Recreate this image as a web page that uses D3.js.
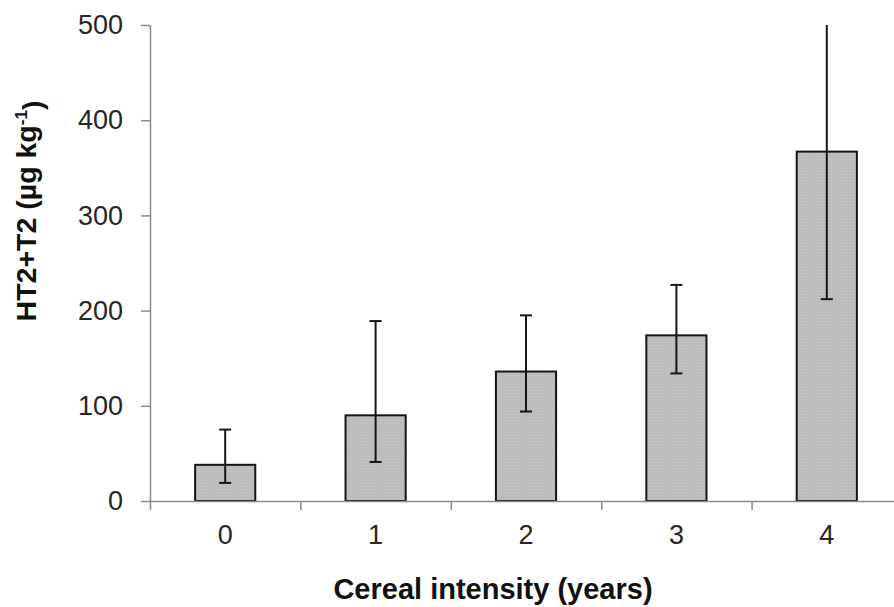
<!DOCTYPE html>
<html>
<head>
<meta charset="utf-8">
<script src="https://cdn.jsdelivr.net/npm/d3@7"></script>
<style>
    body { margin: 0; background: #fff; }
    text { font-family: "Liberation Sans", Arial, sans-serif; }
</style>
</head>
<body>
<div id="chart"></div>
<script>
// Chart data
const categories = ["0", "1", "2", "3", "4"];
const means = [38, 90, 136, 174, 367];
const lowerErr = [19, 41, 94, 134, 212];
const upperErr = [75, 189, 195, 227, 522];
const yTicks = [0, 100, 200, 300, 400, 500];

const width = 894;
const height = 607;
const yMax = 500;

const svg = d3.select("#chart")
    .append("svg")
    .attr("width", width)
    .attr("height", height);

// dotted grey fill like the original
const pattern = svg.append("defs")
    .append("pattern")
    .attr("id", "dots")
    .attr("width", 3)
    .attr("height", 3)
    .attr("patternUnits", "userSpaceOnUse");
pattern.append("rect").attr("width", 3).attr("height", 3).attr("fill", "#bcbcbc");
pattern.append("rect").attr("width", 1).attr("height", 1).attr("fill", "#c9c9c9");

const x = d3.scaleBand()
    .domain(categories)
    .range([150, 902])
    .padding(0);

const xEdge = d3.scaleLinear()
    .domain([0, categories.length])
    .range([150, 902]);

const y = d3.scaleLinear()
    .domain([0, yMax])
    .range([501, 25]);

const barWidth = x.bandwidth() * 0.4;
const axisColor = "#8a8a8a";

// Bars
svg.selectAll(".bar")
    .data(means)
    .join("rect")
    .attr("class", "bar")
    .attr("x", (d, i) => x(categories[i]) + (x.bandwidth() - barWidth) / 2)
    .attr("y", d => y(d))
    .attr("width", barWidth)
    .attr("height", d => y(0) - y(d))
    .attr("fill", "url(#dots)")
    .attr("stroke", "#151515")
    .attr("stroke-width", 2);

// Error bars
const errData = means.map((d, i) => ({
    cx: x(categories[i]) + x.bandwidth() / 2,
    lo: lowerErr[i],
    hi: upperErr[i]
}));

svg.selectAll(".err-line")
    .data(errData)
    .join("line")
    .attr("class", "err-line")
    .attr("x1", d => d.cx)
    .attr("x2", d => d.cx)
    .attr("y1", d => y(d.lo))
    .attr("y2", d => y(Math.min(d.hi, yMax)))
    .attr("stroke", "#151515")
    .attr("stroke-width", 2);

const caps = [];
errData.forEach(d => {
    caps.push({ cx: d.cx, v: d.lo });
    if (d.hi <= yMax) caps.push({ cx: d.cx, v: d.hi });
});

svg.selectAll(".err-cap")
    .data(caps)
    .join("line")
    .attr("class", "err-cap")
    .attr("x1", d => d.cx - 6)
    .attr("x2", d => d.cx + 6)
    .attr("y1", d => y(d.v))
    .attr("y2", d => y(d.v))
    .attr("stroke", "#151515")
    .attr("stroke-width", 2);

// Y axis
const yAxis = svg.append("g")
    .attr("transform", "translate(150,0)")
    .call(d3.axisLeft(y).tickValues(yTicks).tickSize(9).tickSizeOuter(0).tickPadding(18));

// X axis: ticks at category boundaries, labels in band centres
const xEdgeAxis = svg.append("g")
    .attr("transform", `translate(0,${y(0)})`)
    .call(d3.axisBottom(xEdge).tickValues(d3.range(categories.length + 1)).tickSize(9).tickSizeOuter(0).tickFormat(""));

const xAxis = svg.append("g")
    .attr("transform", `translate(0,${y(0)})`)
    .call(d3.axisBottom(x).tickSize(0).tickPadding(24));
xAxis.select(".domain").remove();

[yAxis, xEdgeAxis].forEach(g => {
    g.select(".domain").attr("stroke", axisColor).attr("stroke-width", 1.5);
    g.selectAll(".tick line").attr("stroke", axisColor).attr("stroke-width", 1.5);
});

[yAxis, xAxis].forEach(g => {
    g.selectAll(".tick text")
        .style("font-family", '"Liberation Sans", Arial, sans-serif')
        .style("font-size", "27px")
        .attr("fill", "#262626");
});

// Axis titles
svg.append("text")
    .attr("x", 493)
    .attr("y", 599)
    .attr("text-anchor", "middle")
    .style("font-size", "29px")
    .style("font-weight", "bold")
    .attr("fill", "#111")
    .text("Cereal intensity (years)");

const yTitle = svg.append("text")
    .attr("transform", "translate(36,211) rotate(-90)")
    .attr("text-anchor", "middle")
    .style("font-size", "28.5px")
    .style("font-weight", "bold")
    .attr("fill", "#111");
yTitle.append("tspan").text("HT2+T2 (µg kg");
yTitle.append("tspan").attr("dy", "-0.55em").style("font-size", "17px").text("-1");
yTitle.append("tspan").attr("dy", "0.55em").text(")");
</script>
</body>
</html>
